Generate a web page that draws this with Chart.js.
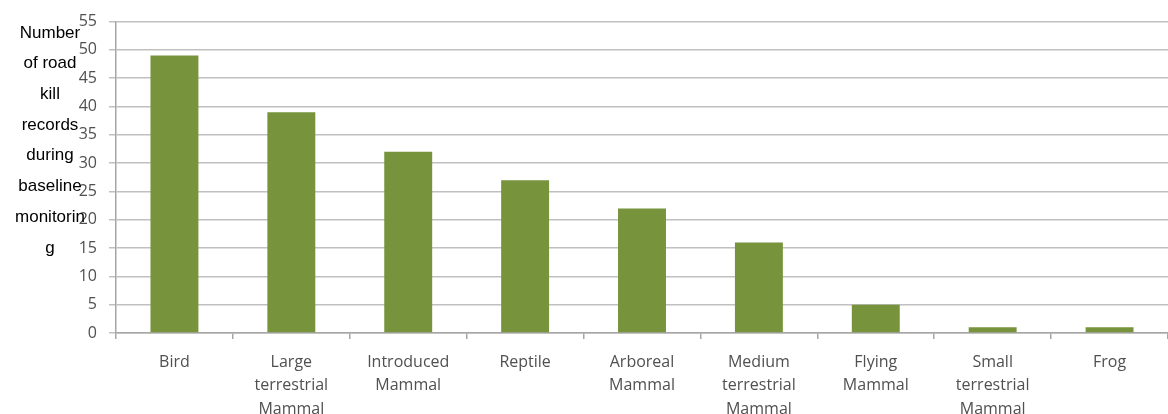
<!DOCTYPE html>
<html lang="en">
<head>
    <meta charset="UTF-8">
    <title>Road kill records</title>
    <script src="https://cdn.jsdelivr.net/npm/chart.js"></script>
    <style>
        body {
            margin: 0;
            background-color: #ffffff;
            overflow: hidden;
        }
        .wrap {
            width: 1168px;
            height: 414px;
        }
    </style>
</head>
<body>
    <div class="wrap">
        <canvas id="roadKillChart" width="1168" height="414"></canvas>
    </div>
    <script>
        // chart data
        const categories = [
            ['Bird'],
            ['Large', 'terrestrial', 'Mammal'],
            ['Introduced', 'Mammal'],
            ['Reptile'],
            ['Arboreal', 'Mammal'],
            ['Medium', 'terrestrial', 'Mammal'],
            ['Flying', 'Mammal'],
            ['Small', 'terrestrial', 'Mammal'],
            ['Frog']
        ];
        const records = [49, 39, 32, 27, 22, 16, 5, 1, 1];
        const yTitleLines = ['Number', 'of road', 'kill', 'records', 'during', 'baseline', 'monitorin', 'g'];

        // y title drawn flat over the tick labels, like the original
        const yTitlePlugin = {
            id: 'yTitle',
            afterDraw(chart) {
                const ctx = chart.ctx;
                ctx.save();
                ctx.fillStyle = '#000000';
                ctx.font = '17px "Liberation Sans", Arial, sans-serif';
                ctx.textAlign = 'center';
                ctx.textBaseline = 'middle';
                yTitleLines.forEach(function(line, i) {
                    ctx.fillText(line, 50, 33 + i * 30.7);
                });
                ctx.restore();
            }
        };

        const ctx = document.getElementById('roadKillChart').getContext('2d');
        const chartInstance = new Chart(ctx, {
            type: 'bar',
            data: {
                labels: categories,
                datasets: [{
                    data: records,
                    backgroundColor: '#77933C',
                    borderWidth: 0,
                    categoryPercentage: 1,
                    barPercentage: 0.41
                }]
            },
            options: {
                responsive: false,
                animation: false,
                layout: {
                    padding: { top: 21, left: 0, right: 0, bottom: 0 }
                },
                plugins: {
                    legend: { display: false },
                    tooltip: { enabled: false }
                },
                scales: {
                    x: {
                        afterFit: function(scale) { scale.height = 81; },
                        grid: {
                            display: true,
                            drawOnChartArea: false,
                            tickLength: 6,
                            color: '#a6a6a6',
                            lineWidth: 1.5
                        },
                        border: { color: '#a6a6a6', width: 1.5 },
                        ticks: {
                            color: '#505050',
                            padding: 12,
                            maxRotation: 0,
                            autoSkip: false,
                            font: { family: '"Open Sans", sans-serif', size: 16, lineHeight: 1.45 }
                        }
                    },
                    y: {
                        min: 0,
                        max: 55,
                        afterFit: function(scale) { scale.width = 116; },
                        grid: {
                            color: '#c0c0c0',
                            lineWidth: 1.5,
                            tickLength: 7
                        },
                        border: { color: '#a6a6a6', width: 1.5 },
                        ticks: {
                            stepSize: 5,
                            color: '#505050',
                            padding: 12,
                            font: { family: '"Open Sans", sans-serif', size: 16 }
                        }
                    }
                }
            },
            plugins: [yTitlePlugin]
        });
    </script>
</body>
</html>
